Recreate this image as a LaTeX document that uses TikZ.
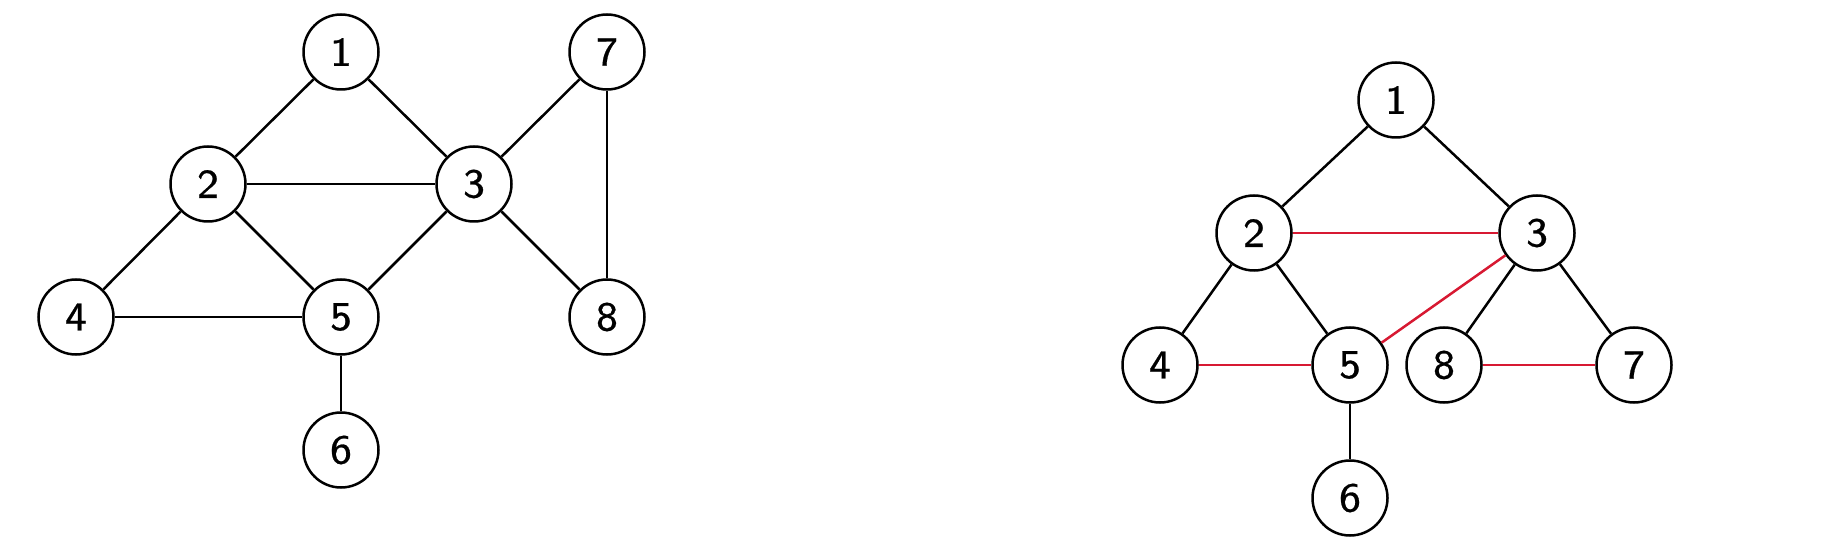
\documentclass[tikz,border=0pt]{standalone}
\usepackage{fontspec}
\newfontfamily\digfont[FakeBold=0.6]{lmsans8-regular.otf}
\definecolor{edgered}{RGB}{215,25,50}
\begin{document}
\begin{tikzpicture}[x=0.5pt,y=-0.5pt,
  vtx/.style={circle,draw=black,line width=1.25pt,minimum size=37.5pt,inner sep=0pt,fill=white,
    font=\fontsize{20.5}{24}\selectfont\digfont},
  edge/.style={line width=1.25pt,black},
  redge/.style={line width=1.25pt,edgered}]
\useasboundingbox (0,0) rectangle (1848,545);
% left graph
\node[vtx] (a1) at (341,52) {1};
\node[vtx] (a2) at (208,184) {2};
\node[vtx] (a3) at (474,184) {3};
\node[vtx] (a4) at (76,317) {4};
\node[vtx] (a5) at (341,317) {5};
\node[vtx] (a6) at (341,450) {6};
\node[vtx] (a7) at (607,52) {7};
\node[vtx] (a8) at (607,317) {8};
\draw[edge] (a1) -- (a2);
\draw[edge] (a1) -- (a3);
\draw[edge] (a2) -- (a3);
\draw[edge] (a2) -- (a4);
\draw[edge] (a2) -- (a5);
\draw[edge] (a3) -- (a5);
\draw[edge] (a3) -- (a7);
\draw[edge] (a3) -- (a8);
\draw[edge] (a4) -- (a5);
\draw[edge] (a5) -- (a6);
\draw[edge] (a7) -- (a8);
% right graph
\node[vtx] (b1) at (1396,100) {1};
\node[vtx] (b2) at (1254,233) {2};
\node[vtx] (b3) at (1537,233) {3};
\node[vtx] (b4) at (1160,365) {4};
\node[vtx] (b5) at (1350,365) {5};
\node[vtx] (b8) at (1444,365) {8};
\node[vtx] (b7) at (1634,365) {7};
\node[vtx] (b6) at (1350,498) {6};
\draw[edge] (b1) -- (b2);
\draw[edge] (b1) -- (b3);
\draw[redge] (b2) -- (b3);
\draw[edge] (b2) -- (b4);
\draw[edge] (b2) -- (b5);
\draw[redge] (b3) -- (b5);
\draw[edge] (b3) -- (b8);
\draw[edge] (b3) -- (b7);
\draw[redge] (b4) -- (b5);
\draw[redge] (b8) -- (b7);
\draw[edge] (b5) -- (b6);
\end{tikzpicture}
\end{document}
